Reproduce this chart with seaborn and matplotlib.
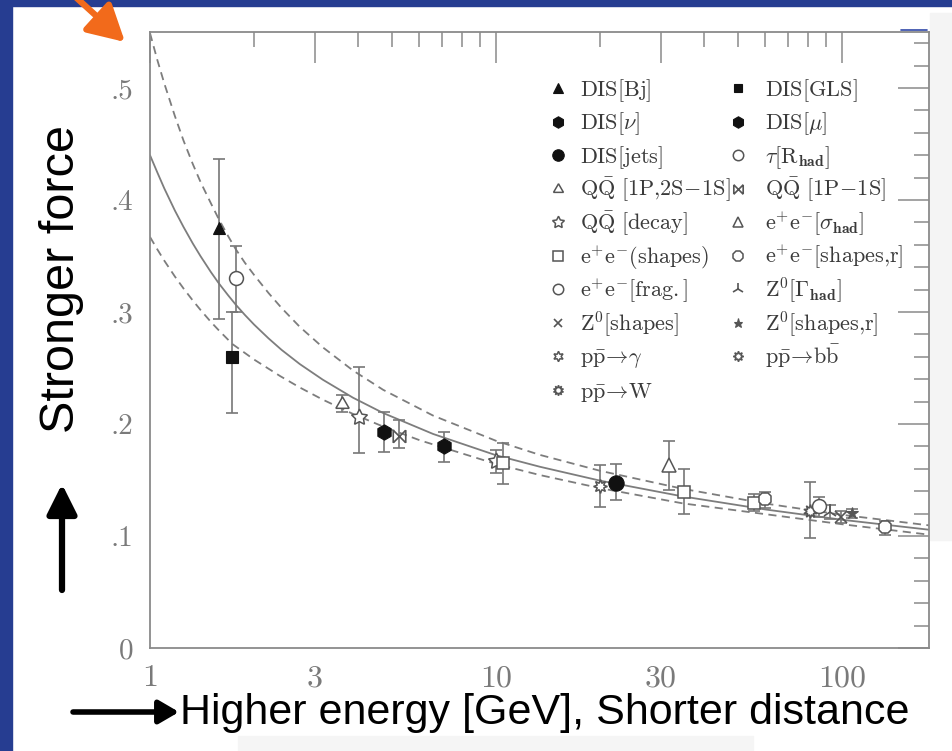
import matplotlib
matplotlib.use("Agg")
import numpy as np
import pandas as pd
import matplotlib.pyplot as plt
import seaborn as sns
from matplotlib.path import Path
from matplotlib.patches import Rectangle
from matplotlib.ticker import FixedLocator, FixedFormatter
from matplotlib.lines import Line2D

# ---------------- data ----------------
# running coupling curves (central, upper and lower band)
mid_x = [1.0, 1.05, 1.1, 1.18, 1.25, 1.33, 1.4, 1.5, 1.58, 1.68, 1.77, 1.88, 2.0, 2.2, 2.4,
         2.71, 3.16, 3.86, 4.72, 6.58, 10.0, 13.4, 20.0, 34.7, 60.0, 100.0, 178.4]
mid_y = [0.440, 0.4246, 0.4103, 0.3906, 0.3759, 0.3611, 0.3498, 0.3356, 0.3257, 0.3151,
         0.3065, 0.2974, 0.2887, 0.2765, 0.2662, 0.2535, 0.2395, 0.2235, 0.2098, 0.1911,
         0.1721, 0.1618, 0.1494, 0.1353, 0.1237, 0.1145, 0.1056]
up_x = [1.0, 1.05, 1.1, 1.18, 1.25, 1.33, 1.4, 1.5, 1.58, 1.68, 1.77, 1.88, 2.0, 2.2, 2.4,
        2.71, 3.16, 3.86, 4.72, 6.58, 10.0, 13.4, 20.0, 34.7, 60.0, 100.0, 178.4]
up_y = [0.549, 0.525, 0.504, 0.475, 0.453, 0.432, 0.416, 0.397, 0.383, 0.368, 0.356, 0.344,
        0.333, 0.317, 0.3036, 0.2867, 0.2684, 0.2478, 0.2305, 0.2075, 0.185, 0.1724, 0.1582,
        0.1421, 0.129, 0.1189, 0.1095]
lo_x = [1.0, 1.05, 1.1, 1.18, 1.25, 1.33, 1.4, 1.5, 1.58, 1.73, 2.0, 2.38, 2.71, 3.16, 3.86,
        4.72, 6.03, 10.0, 13.4, 20.0, 34.7, 60.0, 100.0, 178.4]
lo_y = [0.367, 0.3559, 0.3458, 0.3317, 0.3210, 0.3102, 0.3018, 0.2911, 0.2837, 0.2714, 0.2575,
        0.2427, 0.2326, 0.2217, 0.2090, 0.1977, 0.1854, 0.1643, 0.1544, 0.1427, 0.1291,
        0.1195, 0.1105, 0.1012]

# measurements
pt_method = ["DIS[Bj]", "DIS[GLS]", "tau[Rhad]", "QQ[1P,2S-1S]", "QQ[decay]", "DIS[nu]",
             "QQ[1P-1S]", "DIS[mu]", "QQ[decay]", "ee(shapes)", "pp->bb", "DIS[jets]",
             "ee[sigma_had]", "ee(shapes)", "ee(shapes)", "ee[shapes,r]", "pp->W",
             "ee[frag.]", "Z0[Gamma_had]", "Z0[shapes]", "Z0[shapes,r]", "ee[shapes,r]"]
pt_energy = [1.58, 1.73, 1.77, 3.59, 4.02, 4.75, 5.24, 7.08, 10.0, 10.5, 20.0, 22.2,
             31.6, 34.9, 55.7, 59.9, 80.9, 85.9, 92.3, 99.0, 107.0, 133.0]
pt_alpha = [0.375, 0.260, 0.330, 0.218, 0.206, 0.193, 0.189, 0.180, 0.167, 0.165, 0.145, 0.147,
            0.163, 0.139, 0.1295, 0.133, 0.122, 0.127, 0.1215, 0.117, 0.1205, 0.108]
pt_err_up = [0.062, 0.040, 0.029, 0.008, 0.045, 0.018, 0.015, 0.013, 0.010, 0.018, 0.018, 0.017,
             0.022, 0.021, 0.008, 0.006, 0.026, 0.008, 0.006, 0.005, 0.004, 0.005]
pt_err_dn = [0.081, 0.050, 0.030, 0.007, 0.032, 0.018, 0.010, 0.014, 0.011, 0.019, 0.019, 0.015,
             0.022, 0.019, 0.007, 0.008, 0.024, 0.010, 0.006, 0.005, 0.004, 0.007]

# legend (column 1 then column 2)
legend_keys_col1 = ["DIS[Bj]", "DIS[nu]", "DIS[jets]", "QQ[1P,2S-1S]", "QQ[decay]",
                    "ee(shapes)", "ee[frag.]", "Z0[shapes]", "pp->gamma", "pp->W"]
legend_text_col1 = [r"$\mathrm{DIS[Bj]}$", r"$\mathrm{DIS}[\nu]$", r"$\mathrm{DIS[jets]}$",
                    r"$\mathrm{Q\bar{Q}\ [1P{,}2S\!-\!1S]}$", r"$\mathrm{Q\bar{Q}\ [decay]}$",
                    r"$\mathrm{e^{+}e^{-}(shapes)}$", r"$\mathrm{e^{+}e^{-}[frag.]}$",
                    r"$\mathrm{Z^0[shapes]}$", r"$\mathrm{p\bar{p}}\!\to\!\gamma$",
                    r"$\mathrm{p\bar{p}\!\to\!W}$"]
legend_keys_col2 = ["DIS[GLS]", "DIS[mu]", "tau[Rhad]", "QQ[1P-1S]", "ee[sigma_had]",
                    "ee[shapes,r]", "Z0[Gamma_had]", "Z0[shapes,r]", "pp->bb"]
legend_text_col2 = [r"$\mathrm{DIS[GLS]}$", r"$\mathrm{DIS}[\mu]$", r"$\tau[\mathrm{R_{\mathbf{had}}}]$",
                    r"$\mathrm{Q\bar{Q}\ [1P\!-\!1S]}$", r"$\mathrm{e^{+}e^{-}}[\sigma_{\mathbf{had}}]$",
                    r"$\mathrm{e^{+}e^{-}[shapes{,}r]}$", r"$\mathrm{Z^0}[\Gamma_{\mathbf{had}}]$",
                    r"$\mathrm{Z^0[shapes{,}r]}$", r"$\mathrm{p\bar{p}\!\to\!b\bar{b}}$"]

x_ticks = [1, 3, 10, 30, 100]
x_tick_labels = ["1", "3", "10", "30", "100"]
x_minor = [2, 4, 5, 6, 7, 8, 9, 20, 40, 50, 60, 70, 80, 90]
y_ticks = [0.0, 0.1, 0.2, 0.3, 0.4, 0.5]
y_tick_labels = ["0", ".1", ".2", ".3", ".4", ".5"]
y_minor = [0.02, 0.04, 0.06, 0.08, 0.12, 0.14, 0.16, 0.18, 0.22, 0.24, 0.26, 0.28,
           0.32, 0.34, 0.36, 0.38, 0.42, 0.44, 0.46, 0.48, 0.52, 0.54]

# ---------------- styles ----------------
sns.set_theme(style="white")
plt.rcParams["font.family"] = ["Liberation Sans", "DejaVu Sans"]
plt.rcParams["mathtext.fontset"] = "cm"

GRAY = "#8a8a8a"
CURVE = "#7d7d7d"
BLUE = "#263d91"

bow = Path([(-1, -1), (1, 1), (-1, 1), (1, -1), (-1, -1), (-1, 1), (1, -1), (1, 1)],
           [Path.MOVETO, Path.LINETO, Path.MOVETO, Path.LINETO,
            Path.MOVETO, Path.LINETO, Path.MOVETO, Path.LINETO])

# marker, filled?, size
style = {
    "DIS[Bj]": ("^", True, 9),
    "DIS[GLS]": ("s", True, 8),
    "DIS[nu]": ("h", True, 11),
    "DIS[mu]": ("h", True, 11),
    "DIS[jets]": ("o", True, 11),
    "tau[Rhad]": ("o", False, 10),
    "QQ[1P,2S-1S]": ((3, 1, 0), False, 11),
    "QQ[1P-1S]": (bow, None, 9),
    "QQ[decay]": ((5, 1, 0), False, 12),
    "ee[sigma_had]": ("^", False, 10),
    "ee(shapes)": ("s", False, 9),
    "ee[shapes,r]": ("8", False, 10),
    "ee[frag.]": ("o", False, 10),
    "Z0[Gamma_had]": ("2", None, 11),
    "Z0[shapes]": ("x", None, 8),
    "Z0[shapes,r]": ("*", True, 9),
    "pp->gamma": ((6, 1, 0), False, 10),
    "pp->bb": ((8, 1, 0), False, 10),
    "pp->W": ((10, 1, 0), False, 10),
}


def marker_kw(key, scale=1.0):
    m, filled, ms = style[key]
    kw = dict(marker=m, markersize=ms * scale, linestyle="none")
    if filled is True:
        kw.update(markerfacecolor="#111111", markeredgecolor="#111111", markeredgewidth=0.8)
        if key == "Z0[shapes,r]":
            kw.update(markerfacecolor="#555555", markeredgecolor="#555555")
    elif filled is False:
        kw.update(markerfacecolor="white", markeredgecolor="#555555", markeredgewidth=1.1)
    else:
        kw.update(color="#555555", markeredgewidth=1.2)
    return kw


# ---------------- figure ----------------
W, H = 952, 751
fig = plt.figure(figsize=(W / 100, H / 100), dpi=100)
fig.patch.set_facecolor("white")

ax_l, ax_r, ax_t, ax_b = 150, 929, 32, 648
ax = fig.add_axes([ax_l / W, 1 - ax_b / H, (ax_r - ax_l) / W, (ax_b - ax_t) / H])
ax.set_facecolor("white")

curves = pd.concat([
    pd.DataFrame({"E": mid_x, "alpha": mid_y, "curve": "mid"}),
    pd.DataFrame({"E": up_x, "alpha": up_y, "curve": "up"}),
    pd.DataFrame({"E": lo_x, "alpha": lo_y, "curve": "lo"}),
])
sns.lineplot(data=curves[curves.curve == "mid"], x="E", y="alpha", ax=ax, color=CURVE,
             lw=1.3, estimator=None, legend=False)
for c in ["up", "lo"]:
    sns.lineplot(data=curves[curves.curve == c], x="E", y="alpha", ax=ax, color=CURVE,
                 lw=1.3, estimator=None, legend=False, linestyle=(0, (4.5, 3)))

pts = pd.DataFrame({"method": pt_method, "E": pt_energy, "alpha": pt_alpha,
                    "up": pt_err_up, "dn": pt_err_dn})
ax.errorbar(pts.E, pts.alpha, yerr=[pts.dn, pts.up], fmt="none", ecolor="#777777",
            elinewidth=1.2, capsize=4.5, capthick=1.2, zorder=3)
for key, grp in pts.groupby("method", sort=False):
    ax.plot(grp.E, grp.alpha, zorder=4, **marker_kw(key))

ax.set_xscale("log")
ax.set_xlim(1, 178.4)
ax.set_ylim(0, 0.55)
ax.set_xlabel("")
ax.set_ylabel("")

ax.xaxis.set_major_locator(FixedLocator(x_ticks))
ax.xaxis.set_major_formatter(FixedFormatter(x_tick_labels))
ax.xaxis.set_minor_locator(FixedLocator(x_minor))
ax.xaxis.set_minor_formatter(FixedFormatter([""] * len(x_minor)))
ax.yaxis.set_major_locator(FixedLocator(y_ticks))
ax.yaxis.set_major_formatter(FixedFormatter(y_tick_labels))
ax.yaxis.set_minor_locator(FixedLocator(y_minor))

ax.tick_params(which="both", direction="in", top=True, right=True, color=GRAY, width=1.1,
               labelcolor="#7a7a7a")
ax.tick_params(which="major", length=22)
ax.tick_params(which="minor", length=11)
ax.tick_params(axis="x", which="major", pad=12, labelsize=23)
ax.tick_params(axis="y", which="major", pad=12, labelsize=21)
for lab in ax.get_xticklabels() + ax.get_yticklabels():
    lab.set_fontfamily("cmr10")
for s in ax.spines.values():
    s.set_color(GRAY)
    s.set_linewidth(1.3)

# legend drawn row by row
def to_ax(px, py):
    return (px - ax_l) / (ax_r - ax_l), (ax_b - py) / (ax_b - ax_t)

row0, drow = 88, 33.5
for col, (keys, texts, mx, tx) in enumerate([(legend_keys_col1, legend_text_col1, 558, 580),
                                              (legend_keys_col2, legend_text_col2, 738, 765)]):
    for i, (k, t) in enumerate(zip(keys, texts)):
        py = row0 + i * drow
        xm, ym = to_ax(mx, py)
        ax.plot([xm], [ym], transform=ax.transAxes, clip_on=False, zorder=5, **marker_kw(k, 0.75))
        xt, yt = to_ax(tx, py + 8)
        ax.text(xt, yt, t, transform=ax.transAxes, fontsize=16, color="#3a3a3a",
                ha="left", va="baseline")

# ---------------- slide decorations ----------------
fig.add_artist(Rectangle((0, 0), 12 / W, 1, transform=fig.transFigure, color=BLUE, zorder=-2))
fig.add_artist(Rectangle((0, 1 - 6 / H), 1, 6 / H, transform=fig.transFigure, color=BLUE, zorder=-2))
fig.add_artist(Rectangle((930 / W, 1 - 540 / H), 22 / W, 527 / H, transform=fig.transFigure,
                         color="#f4f4f4", zorder=-2))
fig.add_artist(Rectangle((238 / W, 0), 515 / W, 15 / H, transform=fig.transFigure,
                         color="#f5f5f5", zorder=-2))
fig.add_artist(Line2D([901 / W, 927 / W], [1 - 30 / H, 1 - 30 / H], transform=fig.transFigure,
                      color="#3048a8", lw=1.2))

fig.text(62 / W, 1 - 279 / H, "Stronger force", rotation=90, fontsize=35, color="black",
         ha="center", va="center", family=["Liberation Sans", "DejaVu Sans"])
fig.text(180 / W, 1 - 713 / H, "Higher energy [GeV], Shorter distance", fontsize=31,
         color="black", ha="left", va="center", family=["Liberation Sans", "DejaVu Sans"])

ax.annotate("", xy=(62, H - 484), xytext=(62, H - 590), xycoords="figure pixels",
            textcoords="figure pixels", annotation_clip=False,
            arrowprops=dict(arrowstyle="-|>,head_length=0.9,head_width=0.45", lw=4.5,
                            color="black", shrinkA=0, shrinkB=0, mutation_scale=20))
ax.annotate("", xy=(179, H - 712), xytext=(73, H - 712), xycoords="figure pixels",
            textcoords="figure pixels", annotation_clip=False,
            arrowprops=dict(arrowstyle="-|>,head_length=0.6,head_width=0.35", lw=4,
                            color="black", shrinkA=0, shrinkB=0, mutation_scale=20))
ax.annotate("", xy=(125, H - 42), xytext=(70, H + 8), xycoords="figure pixels",
            textcoords="figure pixels", annotation_clip=False,
            arrowprops=dict(arrowstyle="-|>,head_length=1.0,head_width=0.55", lw=4.5,
                            color="#f26a1b", shrinkA=0, shrinkB=0, mutation_scale=22))

fig.savefig("out.png", dpi=100)
